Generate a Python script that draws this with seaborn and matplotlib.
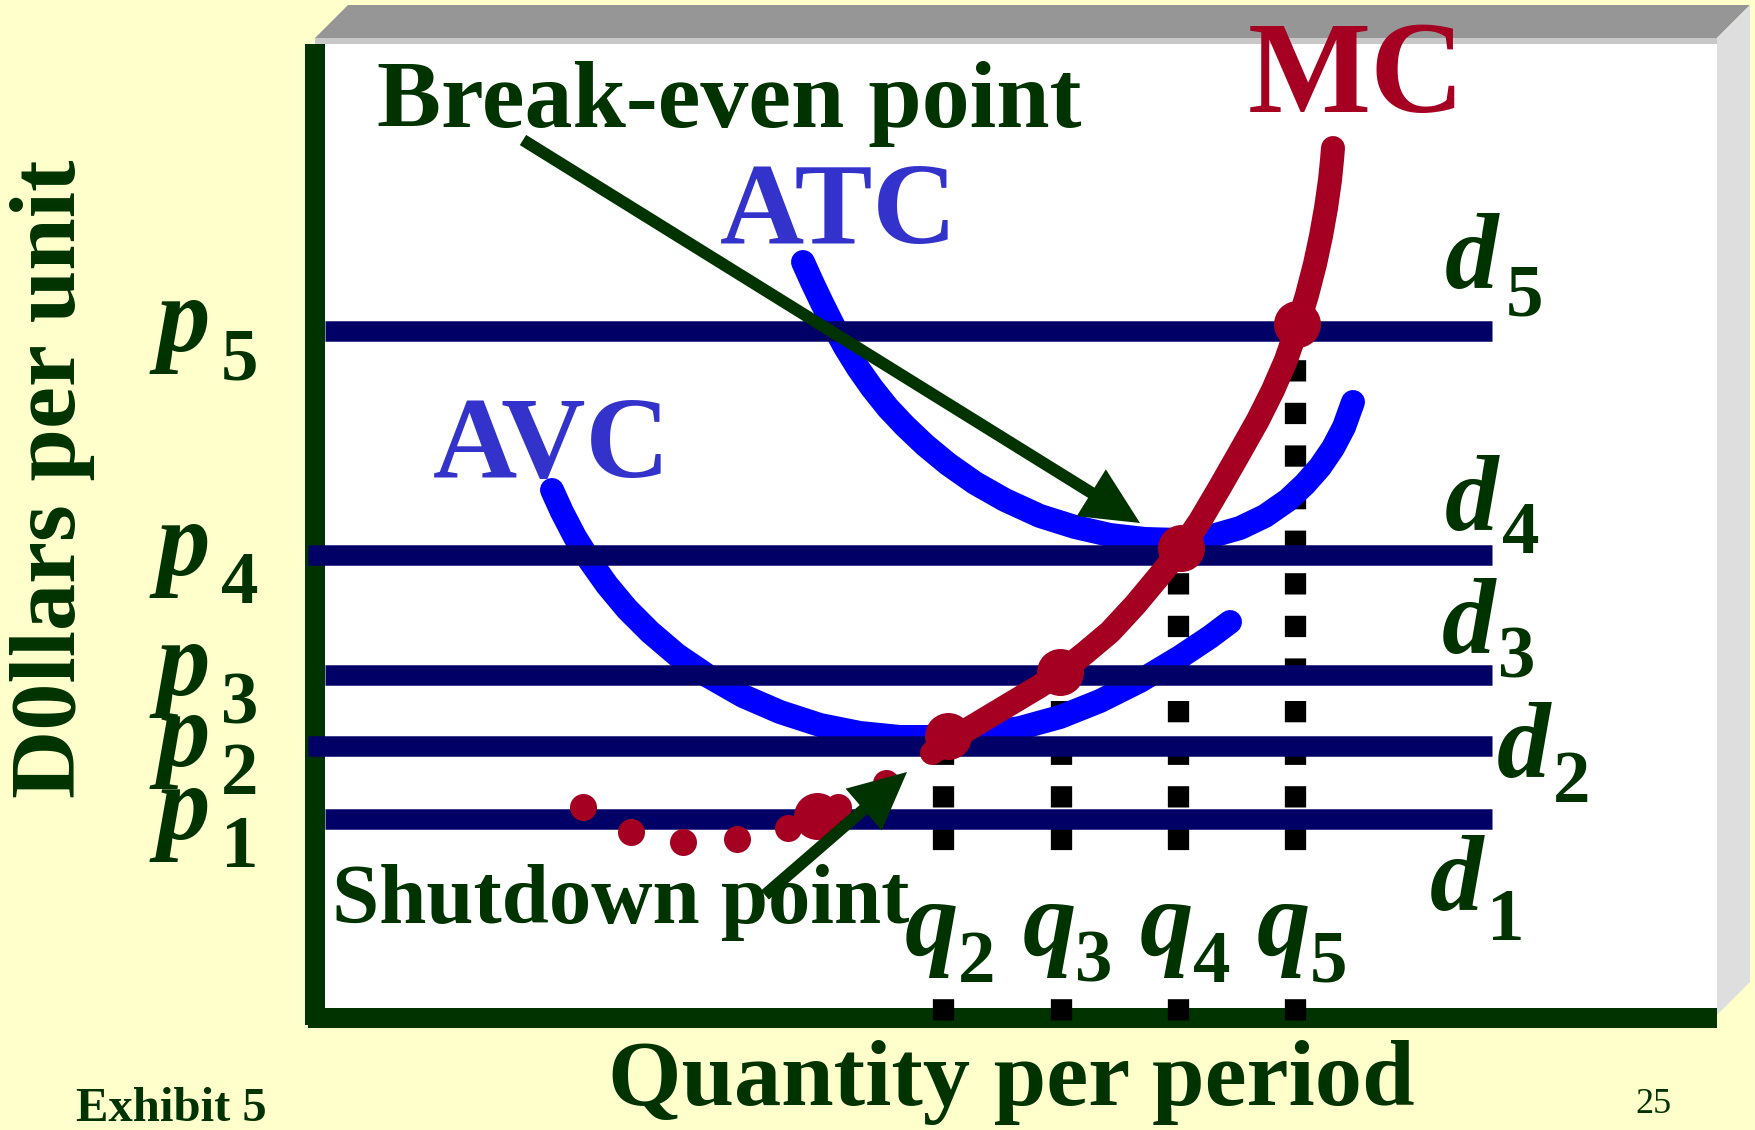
import matplotlib
matplotlib.use("Agg")
import matplotlib.pyplot as plt
from matplotlib.patches import Polygon, Rectangle, FancyArrowPatch
import seaborn as sns

# ---------------------------------------------------------------- data
# price levels p1..p5 (one horizontal demand line d1..d5 for each)
price_levels = [18.9, 26.2, 33.3, 45.3, 67.7]
price_subs = ["1", "2", "3", "4", "5"]

# output levels q2..q5 chosen where price = marginal cost
quantity_levels = [61.8, 73.55, 85.25, 97.0]
quantity_subs = ["2", "3", "4", "5"]

# marginal cost curve above the shutdown point (solid)
mc_q = [60.7, 62.5, 64.5, 66.5, 69.0, 71.5, 73.5, 76.0, 78.5, 81.0,
        83.5, 85.6, 87.5, 89.5, 91.5, 93.3, 94.8, 96.1, 97.2, 98.2,
        99.0, 99.6, 100.1, 100.5, 100.7, 100.8]
mc_p = [25.5, 26.8, 28.0, 29.2, 30.7, 32.2, 33.5, 35.5, 37.6, 40.3,
        43.3, 45.9, 48.7, 52.1, 55.6, 58.8, 61.8, 64.8, 68.0, 71.3,
        74.4, 77.2, 80.0, 82.8, 84.8, 86.0]

# marginal cost curve below the shutdown point (dotted)
mc_low_q = [56.1, 51.3, 46.3, 41.2, 35.8, 30.6, 25.8]
mc_low_p = [22.5, 20.1, 18.0, 16.9, 16.6, 17.6, 20.1]

# average total cost
atc_q = [47.8, 48.7, 49.7, 50.8, 52.0, 53.3, 54.7, 56.3, 58.0, 60.0,
         62.3, 65.0, 68.0, 71.5, 75.0, 78.5, 82.0, 85.5, 88.7, 91.5,
         94.0, 96.3, 98.0, 99.5, 100.8, 101.9, 102.8]
atc_p = [74.6, 72.6, 70.5, 68.3, 66.1, 64.0, 62.0, 60.0, 58.2, 56.3,
         54.4, 52.5, 50.8, 49.2, 48.1, 47.3, 46.9, 46.8, 47.2, 48.0,
         49.2, 50.8, 52.4, 54.1, 56.0, 58.1, 60.6]

# average variable cost
avc_q = [22.7, 23.7, 25.0, 26.5, 28.2, 30.2, 32.5, 35.2, 38.3, 41.8,
         45.5, 49.5, 53.5, 57.5, 61.5, 65.5, 69.5, 73.5, 77.5, 81.5,
         85.5, 88.5, 90.5]
avc_p = [51.8, 49.6, 47.1, 44.7, 42.3, 39.9, 37.6, 35.3, 33.2, 31.2,
         29.6, 28.3, 27.5, 27.1, 27.1, 27.4, 28.0, 29.1, 30.7, 32.7,
         35.1, 37.1, 38.6]

# points where each demand line meets MC
eq_q = [49.2, 62.3, 73.5, 85.6, 97.2]
eq_p = [19.2, 27.2, 33.6, 46.0, 68.4]

# ---------------------------------------------------------------- style
BG = "#FFFFCC"
GREEN = "#003300"
NAVY = "#000066"
RED = "#A50021"
BLUE = "#0000FF"
LABEL_BLUE = "#3333CC"
SERIF = ["Liberation Serif", "DejaVu Serif"]

sns.set_style("white")
plt.rcParams["font.family"] = SERIF

W, H = 1756, 1130
fig = plt.figure(figsize=(W / 100, H / 100), dpi=100)
fig.patch.set_facecolor(BG)

# ---- slide frame drawn in pixel units
deco = fig.add_axes([0, 0, 1, 1])
deco.set_xlim(0, W)
deco.set_ylim(H, 0)
deco.axis("off")
deco.add_patch(Polygon([(315, 38), (348, 5), (1750, 5), (1717, 38)],
                       closed=True, facecolor="#969696", edgecolor="none"))
deco.add_patch(Rectangle((315, 38), 1402, 6, facecolor="#C8C8C8", edgecolor="none"))
deco.add_patch(Polygon([(1717, 38), (1750, 5), (1750, 982), (1717, 1015)],
                       closed=True, facecolor="#DEDEDE", edgecolor="none"))
deco.add_patch(Rectangle((315, 44), 1402, 964, facecolor="white", edgecolor="none"))
deco.add_patch(Rectangle((305, 44), 20, 981, facecolor=GREEN, edgecolor="none"))
deco.add_patch(Rectangle((308, 1008), 1409, 20, facecolor=GREEN, edgecolor="none"))

deco.text(53, 479, "D0llars per unit", rotation=90, ha="center", va="center",
          fontsize=68, fontweight="bold", color=GREEN, family=SERIF)
deco.text(1011, 1105, "Quantity per period", ha="center", va="baseline",
          fontsize=68, fontweight="bold", color=GREEN, family=SERIF)
deco.text(76, 1121, "Exhibit 5", ha="left", va="baseline",
          fontsize=35, fontweight="bold", color=GREEN, family=SERIF)
deco.text(1635, 1113, "25", ha="left", va="baseline",
          fontsize=26, color=GREEN, family=SERIF)

# ---- the cost diagram
ax = fig.add_axes([325 / W, (H - 1008) / H, 1392 / W, 964 / H])
ax.patch.set_alpha(0)

PX = 0.72  # points per pixel at 100 dpi
curve_lw = 24 * PX
band_lw = 20.5 * PX
dot_lw = 21.3 * PX
dot_base = -1.15

# dotted guides from each q up to its price line
for q, p in zip(quantity_levels, eq_p[1:]):
    ax.plot([q, q], [dot_base, p], color="black", lw=dot_lw,
            dashes=(1, 1), dash_capstyle="butt", zorder=1, clip_on=False)

# cost curves
for cq, cp in [(atc_q, atc_p), (avc_q, avc_p)]:
    sns.lineplot(x=cq, y=cp, sort=False, estimator=None, ax=ax, color=BLUE,
                 lw=curve_lw, solid_capstyle="round", solid_joinstyle="round",
                 zorder=3, clip_on=False)

# demand lines d1..d5
x_end = 116.7
for i, p in enumerate(price_levels):
    x_start = -1.7 if i in (1, 3) else 0.0
    ax.plot([x_start, x_end], [p, p], color=NAVY, lw=band_lw,
            solid_capstyle="butt", zorder=4, clip_on=False)

# marginal cost
sns.lineplot(x=mc_q, y=mc_p, sort=False, estimator=None, ax=ax, color=RED,
             lw=curve_lw, solid_capstyle="round", solid_joinstyle="round",
             zorder=5, clip_on=False)
sns.scatterplot(x=mc_low_q, y=mc_low_p, ax=ax, color=RED, s=(27 * PX) ** 2,
                linewidth=0, zorder=6, clip_on=False)
sns.scatterplot(x=eq_q, y=eq_p, ax=ax, color=RED, s=(47 * PX) ** 2,
                linewidth=0, zorder=6, clip_on=False)

# annotation arrows
arrow_style = "-|>,head_length=27,head_width=13"
for tail, tip in [((19.8, 86.8), (81.5, 48.5)), ((44.0, 11.3), (58.2, 23.6))]:
    ax.add_patch(FancyArrowPatch(tail, tip, arrowstyle=arrow_style,
                                 mutation_scale=1, lw=12 * PX, color=GREEN,
                                 shrinkA=0, shrinkB=0, joinstyle="miter",
                                 capstyle="butt", zorder=7, clip_on=False))

# curve names and callouts
ax.text(92.3, 89.6, "MC", fontsize=94, fontweight="bold", color=RED,
        ha="left", va="baseline", zorder=8, clip_on=False)
ax.text(39.5, 76.5, "ATC", fontsize=84, fontweight="bold", color=LABEL_BLUE,
        ha="left", va="baseline", zorder=2, clip_on=False)
ax.text(10.8, 53.1, "AVC", fontsize=84, fontweight="bold", color=LABEL_BLUE,
        ha="left", va="baseline", zorder=2, clip_on=False)
ax.text(5.2, 88.1, "Break-even point", fontsize=69, fontweight="bold",
        color=GREEN, ha="left", va="baseline", zorder=8, clip_on=False)
ax.text(0.7, 8.5, "Shutdown point", fontsize=61, fontweight="bold",
        color=GREEN, ha="left", va="baseline", zorder=9, clip_on=False)

BASE_FS = 77
SUB_FS = 54


def sym(x, y, letter, sx, sy, sub, box=False):
    kw = dict(ha="left", va="baseline", color=GREEN, clip_on=False, zorder=8)
    if box:
        kw["bbox"] = dict(boxstyle="square,pad=0.15", facecolor="white",
                          edgecolor="none")
        kw["zorder"] = 2
    ax.text(x, y, letter, fontsize=BASE_FS, fontweight="bold",
            fontstyle="italic", **kw)
    ax.text(sx, sy, sub, fontsize=SUB_FS, fontweight="bold", ha="left",
            va="baseline", color=GREEN, clip_on=False, zorder=8)


# price labels on the vertical axis
for p, s in zip(price_levels, price_subs):
    sym(-16.8, p - 2.0, "p", -10.4, p - 4.8, s)

# quantity labels under the dotted guides
for q, s in zip(quantity_levels, quantity_subs):
    sym(q - 3.8, 5.3, "q", q + 1.5, 2.6, s, box=True)

# demand line labels
d_pos = [((110.5, 9.8), (116.2, 6.8)),
         ((117.2, 23.1), (122.8, 20.6)),
         ((111.7, 35.5), (117.3, 33.0)),
         ((112.0, 47.8), (117.7, 45.5)),
         ((112.0, 72.0), (118.1, 69.3))]
for ((bx, by), (sx, sy)), s in zip(d_pos, price_subs):
    sym(bx, by, "d", sx, sy, s)

ax.set_xlim(0, 139.2)
ax.set_ylim(0, 96.4)
ax.axis("off")

fig.savefig("out.png", dpi=100, facecolor=BG)
